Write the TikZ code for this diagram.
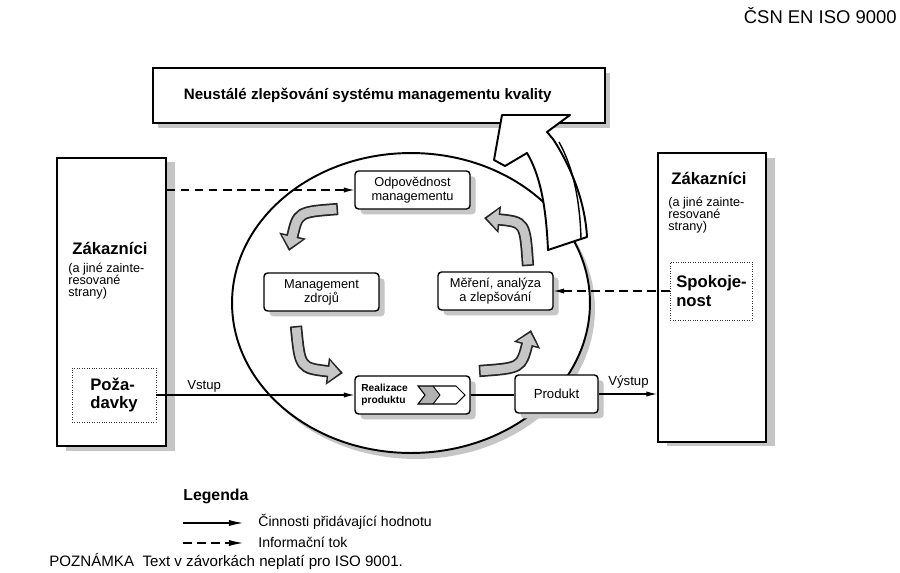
\documentclass[tikz,border=0pt]{standalone}
\usepackage{fontspec}
\setmainfont{Liberation Sans}
\usetikzlibrary{arrows.meta, positioning, shadows}

% curved grey block arrow of the cycle: start, control, end
\newcommand{\cyclearrow}[3]{%
  \draw[line width=7pt, black!85, -{Triangle[length=9pt,width=15pt]}] #1 .. controls #2 .. #3;
  \draw[line width=5pt, gray!45, shorten <=0.9pt, shorten >=1.6pt, -{Triangle[length=6.5pt,width=11.5pt]}] #1 .. controls #2 .. #3;
}

\begin{document}
\begin{tikzpicture}[x=0.02cm, y=-0.02cm,
    sidebox/.style={draw=black, line width=0.9pt, fill=white, minimum width=2.17cm, minimum height=5.77cm,
      general shadow={fill=gray!45, shadow xshift=5pt, shadow yshift=-2.5pt}},
    procbox/.style={draw=black, line width=0.8pt, fill=white, rounded corners=2pt, minimum width=2.3cm, minimum height=0.76cm,
      align=center, font=\fontsize{7.3}{8}\selectfont,
      general shadow={fill=gray!45, shadow xshift=3.2pt, shadow yshift=-3pt}},
    reqbox/.style={draw=black!80, densely dotted, thin, fill=white, align=left,
      font=\fontsize{9.5}{10.5}\selectfont\bfseries},
    who/.style={inner sep=0pt, font=\fontsize{9.5}{11}\selectfont\bfseries},
    whosub/.style={inner sep=0pt, align=left, font=\fontsize{7.2}{6.9}\selectfont},
    flowlabel/.style={inner sep=0pt, font=\fontsize{7.5}{9}\selectfont},
    flow/.style={line width=0.6pt, -{Latex[length=6pt,width=3pt]}},
    infoflow/.style={line width=0.6pt, dash pattern=on 5pt off 3pt, -{Latex[length=6pt,width=3pt]}},
    legtext/.style={inner sep=0pt, anchor=west, font=\fontsize{8}{9}\selectfont}
]
\useasboundingbox (0,0) rectangle (900,572);

\node[anchor=east, inner sep=0pt, font=\fontsize{10.5}{12}\selectfont] (norm) at (897,16) {ČSN EN ISO 9000};

% ellipse of the process cycle
\fill[gray!45] (416,309) ellipse [x radius=3.58cm, y radius=3cm];
\draw[line width=1.1pt, fill=white] (411,303) ellipse [x radius=3.58cm, y radius=3cm];

% continual improvement
\node[draw=black, line width=0.9pt, fill=white, minimum width=9.04cm, minimum height=1.1cm,
  font=\fontsize{8.6}{10}\selectfont\bfseries,
  general shadow={fill=gray!45, shadow xshift=3pt, shadow yshift=-3pt}] (improve) at (379,95.5)
  {Neustálé zlepšování systému managementu kvality\hspace*{0.45cm}};

\draw[line width=1.1pt, fill=white, line join=round] (548,250) .. controls (546,205) and (540,175) .. (527,153)
  -- (505,166) -- (494,160) -- (502,115) -- (570,115) -- (547,132) -- (553,139)
  .. controls (570,165) and (585,200) .. (587,237) -- cycle;
\draw[line width=0.8pt] (559,142) .. controls (573,167) and (580,200) .. (581,239);

% customers
\node[sidebox] (zakL) at (111.5,302) {};
\node[who, anchor=west] (zakLname) at (72,248) {Zákazníci};
\node[whosub, anchor=north west] (zakLsub) at (68,263) {(a jiné zainte-\\resované\\strany)};
\node[reqbox, minimum width=1.68cm, minimum height=1.08cm] (poz) at (114,395) {Poža-\\davky};

\node[sidebox] (zakR) at (712,297.5) {};
\node[who, anchor=west] (zakRname) at (671,178) {Zákazníci};
\node[whosub, anchor=north west] (zakRsub) at (668,197) {(a jiné zainte-\\resované\\strany)};
\node[reqbox, minimum width=1.54cm, minimum height=1.16cm] (spok) at (711.5,291) {Spokoje-\\nost};

% processes
\node[procbox] (odp) at (412.5,190) {Odpovědnost\\managementu};
\node[procbox] (zdroje) at (321.5,292) {Management\\zdrojů};
\node[procbox] (mer) at (495.5,291) {Měření, analýza\\a zlepšování};
\node[procbox] (real) at (412.5,395) {};
\node[inner sep=0pt, anchor=west, align=left, font=\fontsize{5.8}{6.6}\selectfont\bfseries] (realtxt) at (361,395) {Realizace\\produktu};
\fill[gray!60] (418,386) -- (433,386) -- (440,395) -- (433,404) -- (418,404) -- (425,395) -- cycle;
\draw[line width=0.6pt] (418,386) -- (456,386) -- (465,395) -- (456,404) -- (418,404) -- (425,395) -- cycle;
\draw[line width=0.5pt] (433,386) -- (440,395) -- (433,404);
\node[procbox, minimum width=1.66cm, font=\fontsize{7.5}{9}\selectfont] (prod) at (556.5,394) {Produkt};

% cycle arrows
\cyclearrow{(338,209)}{(298,212)}{(289,251)}
\cyclearrow{(296,326)}{(300,368)}{(343,373)}
\cyclearrow{(479,371)}{(521,368)}{(531,330)}
\cyclearrow{(528,266)}{(525,222)}{(484,218)}

% connectors
\draw[infoflow] (zakL.east |- odp.west) -- (odp.west);
\draw[infoflow] (spok.west) -- (mer.east);
\draw[flow] (poz.east) -- (poz.east -| real.west);
\draw[line width=0.6pt] (real.east) -- (real.east -| prod.west);
\draw[flow] (prod.east) -- (prod.east -| zakR.west);
\node[flowlabel, anchor=base west] (vstup) at (187,389) {Vstup};
\node[flowlabel, anchor=base west] (vystup) at (608,385) {Výstup};

% legend
\node[inner sep=0pt, anchor=west, font=\fontsize{9}{10}\selectfont\bfseries] (legenda) at (183,496) {Legenda};
\coordinate (legA) at (183,523);
\coordinate (legB) at (243,523);
\coordinate (legC) at (183,543);
\coordinate (legD) at (243,543);
\draw[line width=0.6pt, -{Latex[length=8pt,width=3.5pt]}] (legA) -- (legB);
\draw[line width=0.6pt, dash pattern=on 5pt off 3pt, -{Latex[length=8pt,width=3.5pt]}] (legC) -- (legD);
\node[legtext] (legvalue) at (258,522) {Činnosti přidávající hodnotu};
\node[legtext] (leginfo) at (258,542) {Informační tok};
\node[legtext, font=\fontsize{8.6}{10}\selectfont] (note) at (49,562) {POZNÁMKA\ \ Text v závorkách neplatí pro ISO 9001.};
\end{tikzpicture}
\end{document}
